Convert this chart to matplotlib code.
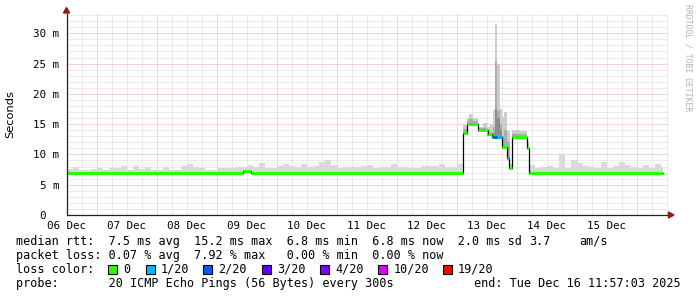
import numpy as np
import matplotlib.pyplot as plt
from matplotlib.patches import Rectangle, Polygon

# x values are days after 06 Dec 00:00, y values are milliseconds
day_labels = ['06 Dec', '07 Dec', '08 Dec', '09 Dec', '10 Dec',
              '11 Dec', '12 Dec', '13 Dec', '14 Dec', '15 Dec']
y_ticks = [0, 5, 10, 15, 20, 25, 30]
y_tick_labels = ['0  ', '5 m', '10 m', '15 m', '20 m', '25 m', '30 m']

# median rtt steps (start day, value, loss class)
med_t = [0.0, 2.938, 3.078, 6.600, 6.667, 6.858, 7.025, 7.083, 7.100,
         7.167, 7.258, 7.328, 7.361, 7.417, 7.667, 7.694]
med_v = [6.9, 7.3, 6.9, 13.5, 15.1, 14.0, 13.3, 12.85, 12.85,
         12.85, 11.3, 9.4, 7.8, 12.9, 11.1, 6.9]
med_loss = ['0', '0', '0', '0', '0', '0', '0', '0', '2/20',
            '1/20', '0', '1/20', '0', '0', '0', '0']
med_end = 9.933

# smoke tops, 0.1 day bins from day 0 and from day 7.7
smoke1_top = [7.6, 7.95, 7.5, 7.5, 7.6, 7.75, 7.4, 7.7, 7.8, 8.1,
              7.5, 8.1, 7.6, 7.9, 7.5, 7.5, 7.9, 7.5, 7.5, 8.1,
              8.4, 7.9, 7.8, 7.5, 7.5, 7.8, 7.75, 7.7, 8.0, 7.9,
              8.3, 7.9, 8.6, 7.75, 7.7, 8.1, 8.5, 8.1, 8.0, 8.5,
              7.9, 8.1, 8.75, 9.0, 8.2, 7.7, 7.9, 7.9, 8.0, 8.1,
              8.2, 7.7, 7.9, 7.9, 8.4, 7.9, 8.0, 7.7, 7.8, 8.1,
              8.1, 8.1, 8.4, 7.9, 8.0, 8.5]
smoke2_top = [8.2, 7.7, 7.9, 8.1, 7.7, 10.0, 7.8, 9.1, 8.6, 8.1,
              8.0, 7.8, 8.8, 7.8, 8.1, 8.7, 8.2, 7.9, 7.8, 8.3,
              7.7, 8.5, 8.0]

# smoke during the 12-13 Dec episode (uneven bins)
spike_edges = [6.600, 6.667, 6.700, 6.767, 6.850, 6.933, 7.000, 7.050,
               7.100, 7.133, 7.167, 7.217, 7.250, 7.283, 7.333, 7.383,
               7.417, 7.550, 7.667, 7.700]
spike_top = [14.9, 16.0, 16.7, 16.0, 14.6, 15.2, 14.5, 14.8, 17.3, 31.6,
             25.0, 17.5, 16.2, 17.0, 13.8, 8.5, 14.0, 13.9, 12.0]
spike_mid = [14.2, 15.6, 15.8, 15.5, 14.3, 14.4, 13.8, 13.6, 14.5, 25.5,
             17.2, 15.0, 13.0, 14.0, 12.0, np.nan, 13.3, 13.4, np.nan]
spike_dark = [np.nan] * 8 + [13.5, 17.5, 16.0, 14.0] + [np.nan] * 7

loss_labels = ['0', '1/20', '2/20', '3/20', '4/20', '10/20', '19/20']
loss_colors = ['#26ff00', '#00b8ff', '#0059ff', '#5e00ff', '#7e00ff', '#dd00ff', '#ff0000']

W, H = 697, 297
MONO = 'DejaVu Sans Mono'


def fx(px):
    return px / W


def fy(py):
    return 1 - py / H


def median_at(t):
    i = np.searchsorted(med_t, t, side='right') - 1
    return med_v[max(i, 0)]


def draw_smoke(ax, t0, t1, tops, color):
    for a, b, top in zip(t0, t1, tops):
        if np.isnan(top):
            continue
        b = min(b, med_end)
        bot = median_at((a + b) / 2) - 0.3
        ax.bar(a, max(top - bot, 0), width=b - a, bottom=bot, align='edge',
               color=color, linewidth=0, zorder=2)


fig = plt.figure(figsize=(W / 100, H / 100), dpi=100)
ax = fig.add_axes([fx(66.5), fy(215), (668 - 66.5) / W, (215 - 14) / H])
ax.set_xlim(0, 601 / 60)
ax.set_ylim(0, 201 / 6.057)

# grid: dotted, minor grey every 6 h / 1 ms, major red every day (noon) / 5 ms
for d in np.arange(0.25, 10.01, 0.25):
    red = abs((d - 0.5) % 1) < 1e-6
    ax.axvline(d, color='#e8a8a8' if red else '#d8d8d8', lw=0.72,
               ls=(0, (1, 1)), zorder=1)
for v in range(1, 34):
    red = v % 5 == 0
    ax.axhline(v, color='#e8a8a8' if red else '#d8d8d8', lw=0.72,
               ls=(0, (1, 1)), zorder=1)

# smoke
n1 = len(smoke1_top)
draw_smoke(ax, np.arange(n1) * 0.1, np.arange(1, n1 + 1) * 0.1, smoke1_top, '#d9d9d9')
n2 = len(smoke2_top)
draw_smoke(ax, 7.7 + np.arange(n2) * 0.1, 7.7 + np.arange(1, n2 + 1) * 0.1, smoke2_top, '#d9d9d9')
draw_smoke(ax, spike_edges[:-1], spike_edges[1:], spike_top, '#cdcdcd')
draw_smoke(ax, spike_edges[:-1], spike_edges[1:], spike_mid, '#acacac')
draw_smoke(ax, spike_edges[:-1], spike_edges[1:], spike_dark, '#8c8c8c')

# median line: black steps with loss-coloured levels
xs = med_t + [med_end]
ys = med_v + [med_v[-1]]
ax.step(xs, ys, where='post', color='black', lw=0.9, zorder=3)
ends = med_t[1:] + [med_end]
for a, b, v, l in zip(med_t, ends, med_v, med_loss):
    ax.hlines(v, a, b, color=loss_colors[loss_labels.index(l)], lw=2.2,
              zorder=4, capstyle='butt')

for s in ['top', 'right']:
    ax.spines[s].set_visible(False)
for s in ['left', 'bottom']:
    ax.spines[s].set_color('#202020')
    ax.spines[s].set_linewidth(0.9)
    ax.spines[s].set_zorder(5)

ax.set_xticks(range(len(day_labels)))
ax.set_xticklabels(day_labels, family=MONO, fontsize=7.8)
ax.set_yticks(y_ticks)
ax.set_yticklabels(y_tick_labels, family=MONO, fontsize=7.8)
ax.tick_params(axis='x', length=0, pad=4)
ax.tick_params(axis='y', length=0, pad=5.4)

# arrows on axes
arrow_c = '#8b1a1a'
fig.add_artist(Polygon([(fx(66.5), fy(7.5)), (fx(63.5), fy(13)), (fx(69.5), fy(13))],
                       closed=True, color=arrow_c, transform=fig.transFigure))
fig.add_artist(Polygon([(fx(674), fy(215)), (fx(668.5), fy(212)), (fx(668.5), fy(218))],
                       closed=True, color=arrow_c, transform=fig.transFigure))

fig.text(fx(10), fy(114), 'Seconds', rotation=90, ha='center', va='center',
         fontsize=8.2, family='DejaVu Sans')
fig.text(fx(688), fy(4), 'RRDTOOL / TOBI OETIKER', rotation=270, ha='center',
         va='top', fontsize=5.9, family=MONO, color='#b4b4b4')

# legend block
fs = 8.5
fig.text(fx(16), fy(241.5), 'median rtt:  7.5 ms avg  15.2 ms max  6.8 ms min  6.8 ms now  2.0 ms sd',
         ha='left', va='center', family=MONO, fontsize=fs)
fig.text(fx(529.3), fy(241.5), '3.7', ha='left', va='center', family=MONO, fontsize=fs)
fig.text(fx(579.3), fy(241.5), 'am/s', ha='left', va='center', family=MONO, fontsize=fs)
fig.text(fx(16), fy(255.3), 'packet loss: 0.07 % avg  7.92 % max   0.00 % min  0.00 % now',
         ha='left', va='center', family=MONO, fontsize=fs)
fig.text(fx(16), fy(269.3), 'loss color:', ha='left', va='center', family=MONO, fontsize=fs)
sq_x = [108.3, 145.7, 203.3, 261.7, 320.0, 378.3, 442.7]
for x0, lab, col in zip(sq_x, loss_labels, loss_colors):
    fig.add_artist(Rectangle((fx(x0), fy(274)), 9 / W, 9 / H, facecolor=col,
                             edgecolor='black', lw=0.8, transform=fig.transFigure))
    fig.text(fx(x0 + 15), fy(269.3), lab, ha='left', va='center', family=MONO, fontsize=fs)
fig.text(fx(16), fy(283.3), 'probe:       20 ICMP Echo Pings (56 Bytes) every 300s',
         ha='left', va='center', family=MONO, fontsize=fs)
fig.text(fx(680.5), fy(283.3), 'end: Tue Dec 16 11:57:03 2025', ha='right', va='center',
         family=MONO, fontsize=fs)

fig.savefig('out.png', dpi=100, facecolor='white')
